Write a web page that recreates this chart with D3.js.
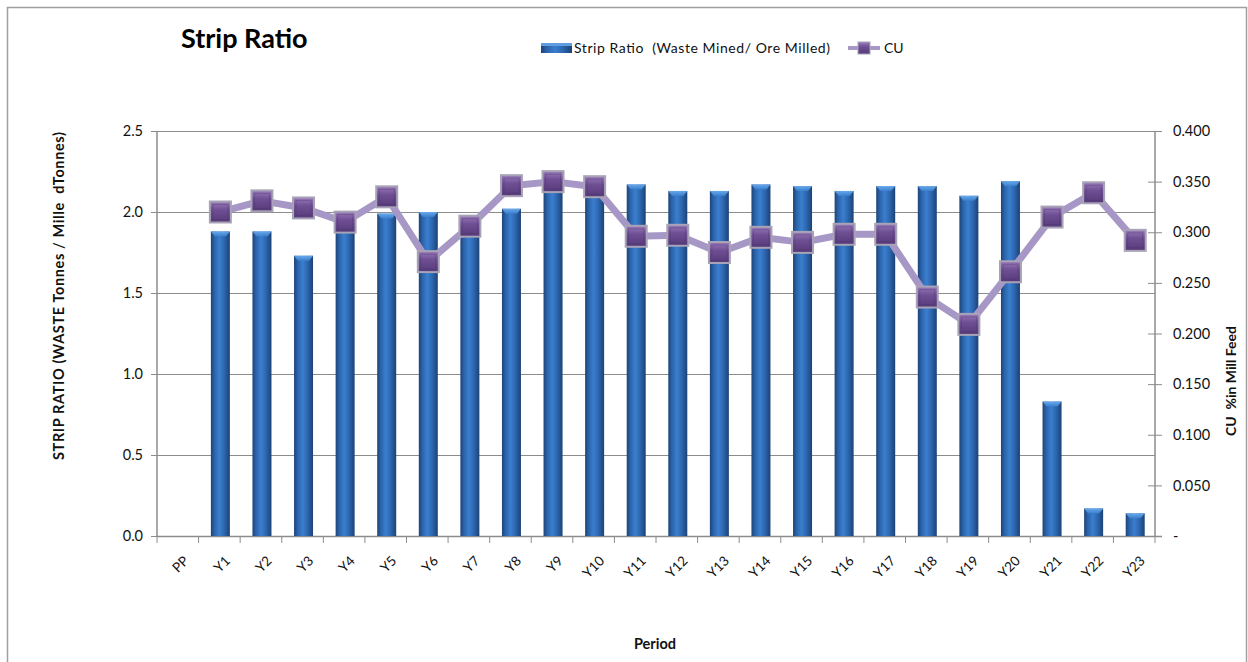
<!DOCTYPE html>
<html>
<head>
<meta charset="utf-8">
<script src="https://cdn.jsdelivr.net/npm/d3@7"></script>
<style>
  html, body { margin: 0; padding: 0; background: #fff; }
  svg { display: block; font-family: Lato, "Open Sans", sans-serif; }
</style>
</head>
<body>
<svg id="chart" width="1248" height="662"></svg>
<script>
// Periods along the x axis
const periods = ["PP","Y1","Y2","Y3","Y4","Y5","Y6","Y7","Y8","Y9","Y10","Y11","Y12","Y13","Y14","Y15","Y16","Y17","Y18","Y19","Y20","Y21","Y22","Y23"];
// Strip ratio (waste mined / ore milled)
const stripRatio = [null,1.88,1.88,1.73,1.93,1.99,2.00,1.90,2.02,2.15,2.12,2.17,2.13,2.13,2.17,2.16,2.13,2.16,2.16,2.10,2.19,0.83,0.17,0.14];
// Cu % in mill feed
const cuGrade = [null,0.320,0.331,0.324,0.310,0.335,0.271,0.306,0.346,0.350,0.345,0.296,0.297,0.280,0.295,0.290,0.298,0.298,0.236,0.209,0.261,0.315,0.339,0.292];
// Axis ticks
const leftTicks = [0,0.5,1.0,1.5,2.0,2.5];
const rightTicks = [0,0.05,0.10,0.15,0.20,0.25,0.30,0.35,0.40];

const svg = d3.select("#chart");
const plot = { left: 157, right: 1155, top: 131, bottom: 536 };

const defs = svg.append("defs");
const barGrad = defs.append("linearGradient").attr("id","barGrad").attr("x1","0").attr("x2","1").attr("y1","0").attr("y2","0");
[["0%","#1c4377"],["18%","#2b62a8"],["45%","#3a7fcf"],["70%","#2d67b0"],["100%","#1c4276"]]
  .forEach(([o,c]) => barGrad.append("stop").attr("offset",o).attr("stop-color",c));
const capGrad = defs.append("linearGradient").attr("id","capGrad").attr("x1","0").attr("x2","0").attr("y1","0").attr("y2","1");
[["0%","#6fb0f0"],["100%","#3a7fcf"]].forEach(([o,c]) => capGrad.append("stop").attr("offset",o).attr("stop-color",c));
const mkGrad = defs.append("linearGradient").attr("id","mkGrad").attr("x1","0").attr("x2","0").attr("y1","0").attr("y2","1");
[["0%","#9a7cba"],["40%","#6f4f94"],["100%","#553a78"]].forEach(([o,c]) => mkGrad.append("stop").attr("offset",o).attr("stop-color",c));

// Outer chart frame
svg.append("path").attr("d","M7.5,662 V7.5 H1246.5 V662").attr("fill","none").attr("stroke","#a0a0a0").attr("stroke-width",1.5);

const x = d3.scaleBand().domain(periods).range([plot.left, plot.right]).paddingInner(0).paddingOuter(0);
const yL = d3.scaleLinear().domain([0,2.5]).range([plot.bottom, plot.top]);
const yR = d3.scaleLinear().domain([0,0.4]).range([plot.bottom, plot.top]);

// Horizontal gridlines
svg.append("g").selectAll("line").data(leftTicks.filter(d => d > 0)).join("line")
  .attr("x1", plot.left).attr("x2", plot.right)
  .attr("y1", d => Math.round(yL(d)) + 0.5).attr("y2", d => Math.round(yL(d)) + 0.5)
  .attr("stroke", "#8c8c8c").attr("stroke-width", 1);

// Left axis
const gL = svg.append("g").attr("transform", `translate(${plot.left},0)`)
  .call(d3.axisLeft(yL).tickValues(leftTicks).tickFormat(d3.format(".1f")).tickSize(6).tickPadding(8));
// Right axis
const gR = svg.append("g").attr("transform", `translate(${plot.right},0)`)
  .call(d3.axisRight(yR).tickValues(rightTicks).tickFormat(d => d === 0 ? "-" : d3.format(".3f")(d)).tickSize(7).tickPadding(11));
gR.selectAll(".tick line").attr("x1", -7);
// Bottom axis
const bandEdges = periods.map(p => x(p)).concat([plot.right]);
const gB = svg.append("g");
gB.append("line").attr("x1", plot.left).attr("x2", plot.right + 7).attr("y1", plot.bottom + 0.5).attr("y2", plot.bottom + 0.5)
  .attr("stroke","#8c8c8c").attr("stroke-width",1.5);
gB.selectAll("line.tk").data(bandEdges).join("line").attr("class","tk")
  .attr("x1", d => d).attr("x2", d => d).attr("y1", plot.bottom).attr("y2", plot.bottom + 7)
  .attr("stroke","#8c8c8c");
gB.selectAll("text").data(periods).join("text")
  .attr("transform", d => `translate(${x(d) + x.bandwidth()/2 + 5},${plot.bottom + 19}) rotate(-45)`)
  .attr("text-anchor","end").attr("dy","0.7em")
  .attr("font-size", 13.5).attr("fill","#111").text(d => d);

[gL, gR].forEach(g => {
  g.select(".domain").attr("stroke","#8c8c8c").attr("stroke-width",1.5);
  g.selectAll(".tick line").attr("stroke","#8c8c8c");
  g.selectAll(".tick text").attr("font-size", 14.5).attr("fill","#111").attr("font-family","Lato, sans-serif");
});
gL.select(".domain").attr("d", `M0,${plot.bottom}V${plot.top}`);
gR.select(".domain").attr("d", `M0,${plot.bottom}V${plot.top}`);

// Bars
const bw = 19;
const bars = svg.append("g").selectAll("g").data(periods.map((p,i) => ({p, v: stripRatio[i]})).filter(d => d.v != null)).join("g");
bars.append("rect")
  .attr("x", d => x(d.p) + x.bandwidth()/2 - bw/2 + 1)
  .attr("y", d => yL(d.v))
  .attr("width", bw).attr("height", d => plot.bottom - yL(d.v))
  .attr("fill", "url(#barGrad)");
bars.append("path")
  .attr("d", d => {
    const l = x(d.p) + x.bandwidth()/2 - bw/2 + 1, t = yL(d.v);
    return `M${l},${t} H${l+bw} L${l+bw-4},${t+5} H${l+4} Z`;
  })
  .attr("fill", "url(#capGrad)").attr("opacity", 0.9);

// CU line and markers
const cuData = periods.map((p,i) => ({p, v: cuGrade[i]})).filter(d => d.v != null);
const line = d3.line().x(d => x(d.p) + x.bandwidth()/2 + 1).y(d => yR(d.v));
svg.append("path").datum(cuData).attr("d", line)
  .attr("fill","none").attr("stroke","#a797c6").attr("stroke-width",7).attr("stroke-linejoin","round");
const ms = 21;
const mk = svg.append("g").selectAll("g").data(cuData).join("g")
  .attr("transform", d => `translate(${x(d.p) + x.bandwidth()/2 + 1},${yR(d.v)})`);
mk.append("rect").attr("x", -ms/2).attr("y", -ms/2).attr("width", ms).attr("height", ms)
  .attr("fill","url(#mkGrad)").attr("stroke","#a8a3b6").attr("stroke-width",2);
mk.append("rect").attr("x", -ms/2 + 3).attr("y", -ms/2 + 3).attr("width", ms - 6).attr("height", ms - 6)
  .attr("fill","none").attr("stroke","#4a3266").attr("stroke-opacity",0.35).attr("stroke-width",1);

// Title
svg.append("text").attr("x", 181).attr("y", 48).attr("font-size", 27).attr("font-weight","bold")
  .attr("fill","#000").text("Strip Ratio");

// Legend
const lg = svg.append("g");
lg.append("rect").attr("x", 541).attr("y", 43).attr("width", 31).attr("height", 10).attr("fill","url(#barGrad)");
lg.append("rect").attr("x", 541).attr("y", 43).attr("width", 31).attr("height", 3).attr("fill","#5e9de0");
lg.append("text").attr("x", 574).attr("y", 53).attr("font-size", 14).attr("fill","#111")
  .attr("textLength", 256).attr("lengthAdjust","spacing")
  .attr("xml:space","preserve").text("Strip Ratio  (Waste Mined/ Ore Milled)");
lg.append("line").attr("x1", 848).attr("x2", 880).attr("y1", 48).attr("y2", 48).attr("stroke","#a797c6").attr("stroke-width",4);
lg.append("rect").attr("x", 858).attr("y", 42).attr("width", 12).attr("height", 12).attr("fill","url(#mkGrad)").attr("stroke","#a8a3b6").attr("stroke-width",1);
lg.append("text").attr("x", 884).attr("y", 53).attr("font-size", 14).attr("fill","#111").text("CU");

// Axis titles
svg.append("text").attr("transform","translate(64,296) rotate(-90)").attr("text-anchor","middle")
  .attr("font-size", 14.5).attr("font-weight","bold").attr("fill","#111")
  .attr("textLength", 328).attr("lengthAdjust","spacing")
  .attr("xml:space","preserve").text("STRIP RATIO (WASTE Tonnes / Mille  dTonnes)");
svg.append("text").attr("transform","translate(1236,381) rotate(-90)").attr("text-anchor","middle")
  .attr("font-size", 14).attr("font-weight","bold").attr("fill","#111")
  .attr("xml:space","preserve").text("CU  %in Mill Feed");
svg.append("text").attr("x", 655).attr("y", 649).attr("text-anchor","middle")
  .attr("font-size", 14.5).attr("font-weight","bold").attr("fill","#111").text("Period");
</script>
</body>
</html>
